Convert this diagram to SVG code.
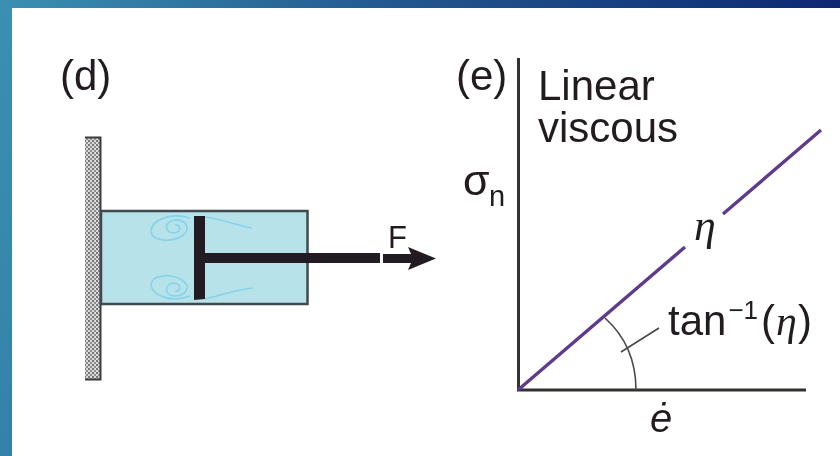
<svg xmlns="http://www.w3.org/2000/svg" width="840" height="456" viewBox="0 0 840 456">
<style>
text{font-family:"Liberation Sans",Arial,sans-serif;fill:#231f20}
.lab{font-size:42px}
.it{font-style:italic}
.swirl{fill:none;stroke:#85d3ea;stroke-width:1.600}
.ax{fill:none;stroke:#33302f;stroke-width:3}
.vis{fill:none;stroke:#5e3a8e;stroke-width:3.400}
.thin{fill:none;stroke:#4a4748;stroke-width:1.600}
</style>
<defs>
<linearGradient id="bg" gradientUnits="userSpaceOnUse" x1="0" y1="0" x2="840" y2="180">
<stop offset="0" stop-color="#3b90b2"/><stop offset="0.45" stop-color="#22588f"/><stop offset="1" stop-color="#0b2470"/>
</linearGradient>
<pattern id="hatch" width="4" height="4" patternUnits="userSpaceOnUse">
<rect width="4" height="4" fill="#dadada"/><rect width="2" height="2" fill="#767676"/><rect x="2" y="2" width="2" height="2" fill="#8e8e8e"/>
</pattern>
<filter id="soft" x="-5%" y="-5%" width="110%" height="110%"><feGaussianBlur stdDeviation="0.6"/></filter>
</defs>
<rect width="840" height="456" fill="url(#bg)"/>
<rect x="12" y="8" width="828" height="448" fill="#fff"/>
<g filter="url(#soft)">
<g id="wall">
<rect x="85" y="137.500" width="15.500" height="242" fill="url(#hatch)"/>
<path d="M85 137.500H100.500V379.500H85" fill="none" stroke="#3a3a3a" stroke-width="2"/>
</g>
<g id="dashpot">
<rect x="101" y="211" width="206.500" height="93" fill="#b8e2ea" stroke="#3f4a4d" stroke-width="2.500"/>
<path class="swirl" d="M190 218C170 212 152 220 151 231C151 241 170 243 182 236C192 229 186 219 174 220C164 222 164 233 174 233C182 232 181 224 175 225M205 217C222 219 238 226 252 228"/>
<path class="swirl" d="M190 296C170 304 152 294 151 285C151 275 170 273 182 280C192 287 186 296 174 296C164 295 164 284 174 283C182 284 181 292 175 291M205 299C222 295 238 289 253 288"/>
<path d="M194 216H205V299L194 300Z" fill="#231f20"/>
<rect x="205" y="253" width="175" height="10" fill="#231f20"/>
</g>
<g id="force">
<path d="M383 254H411L408 247L436 258.500L408 270L411 263H383Z" fill="#231f20"/>
<text x="388" y="248" style="font-size:31px">F</text>
</g>
<g id="labels-d">
<text class="lab" x="60" y="90">(d)</text>
</g>
<g id="connectors">
<path class="ax" d="M518.500 58V390H806"/>
<path class="vis" d="M518 390L685 247M723 214L821 130"/>
<path class="thin" d="M605 318Q636 346 636 390M621 352L659 328"/>
</g>
<g id="labels-e">
<text class="lab" x="456" y="90">(e)</text>
<text class="lab" x="538" y="100">Linear</text>
<text class="lab" x="538" y="142">viscous</text>
<text x="463" y="195" style="font-size:43px">σ</text>
<text x="489" y="206" style="font-size:29px">n</text>
<text x="694" y="240" class="it" style="font-family:'Liberation Serif',serif;font-size:44px">η</text>
<text x="668" y="335" style="font-size:42px">tan<tspan dx="2" dy="-16" font-size="26">−1</tspan><tspan dx="3" dy="16">(</tspan><tspan dx="1" class="it" style="font-family:'Liberation Serif',serif">η</tspan><tspan dx="1">)</tspan></text>
<text x="650" y="432" class="it" style="font-size:40px">ė</text>
</g>
</g>
</svg>
